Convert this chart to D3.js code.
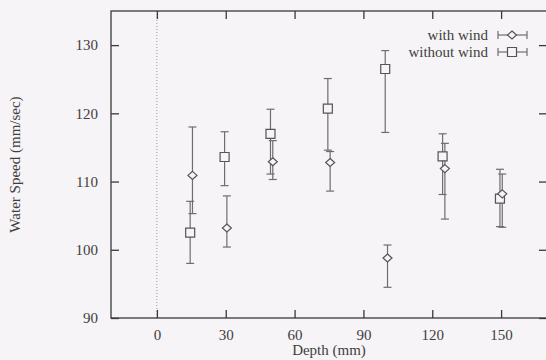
<!DOCTYPE html>
<html>
<head>
<meta charset="utf-8">
<script src="https://cdn.jsdelivr.net/npm/d3@7"></script>
<style>
  html, body { margin: 0; padding: 0; background: #f6f4f6; }
  svg { display: block; }
  text { font-family: "Liberation Serif", "Times New Roman", serif; fill: #3e3e3e; }
</style>
</head>
<body>
<svg id="chart" width="546" height="360"></svg>
<script>
// Measured water speed at each depth, mean with lower/upper error limits (mm/sec)
const withWindDepth    = [15.5, 30.5, 50.5, 75.5, 100.5, 125.5, 150.5];
const withWindSpeed    = [110.9, 103.2, 112.9, 112.8, 98.8, 111.9, 108.2];
const withWindLow      = [105.3, 100.4, 110.3, 108.6, 94.5, 104.5, 103.3];
const withWindHigh     = [118.0, 107.9, 116.0, 114.4, 100.7, 115.6, 111.1];

const withoutWindDepth = [14.5, 29.5, 49.5, 74.5, 99.5, 124.5, 149.5];
const withoutWindSpeed = [102.5, 113.6, 117.0, 120.7, 126.5, 113.7, 107.5];
const withoutWindLow   = [98.0, 109.4, 111.1, 114.6, 117.2, 108.1, 103.4];
const withoutWindHigh  = [107.1, 117.3, 120.6, 125.1, 129.2, 117.0, 111.8];

const xTicks = [0, 30, 60, 90, 120, 150];
const yTicks = [90, 100, 110, 120, 130];
const seriesNames = ["with wind", "without wind"];

const svg = d3.select("#chart");
const bg = "#f6f4f6";
const lineColor = "#6e6e6e";
const frameColor = "#3a3a3a";

const x = d3.scaleLinear().domain([-20, 170]).range([111, 547]);
const y = d3.scaleLinear().domain([90, 135]).range([318, 11]);

// zero line
svg.append("line")
  .attr("x1", x(0)).attr("x2", x(0))
  .attr("y1", y(135)).attr("y2", y(90))
  .attr("stroke", "#9a9a9a").attr("stroke-width", 1)
  .attr("stroke-dasharray", "1,2");

// frame
svg.append("rect")
  .attr("x", x(-20)).attr("y", y(135))
  .attr("width", x(170) - x(-20)).attr("height", y(90) - y(135))
  .attr("fill", "none").attr("stroke", frameColor).attr("stroke-width", 1.3);

function styleAxis(g) {
  g.select(".domain").remove();
  g.selectAll(".tick line").attr("stroke", frameColor).attr("stroke-width", 1.3);
  g.selectAll(".tick text").attr("font-size", 15).attr("fill", "#3e3e3e")
    .attr("font-family", "Liberation Serif, Times New Roman, serif");
}

// bottom axis with inward ticks
svg.append("g").attr("transform", `translate(0,${y(90)})`)
  .call(d3.axisBottom(x).tickValues(xTicks).tickSize(-8).tickPadding(11).tickFormat(d3.format("d")))
  .call(styleAxis);
// mirrored top ticks
svg.append("g").attr("transform", `translate(0,${y(135)})`)
  .call(d3.axisTop(x).tickValues(xTicks).tickSize(-8).tickFormat(""))
  .call(styleAxis);
// left axis
svg.append("g").attr("transform", `translate(${x(-20)},0)`)
  .call(d3.axisLeft(y).tickValues(yTicks).tickSize(-8).tickPadding(13).tickFormat(d3.format("d")))
  .call(styleAxis);
// mirrored right ticks
svg.append("g").attr("transform", `translate(${x(170)},0)`)
  .call(d3.axisRight(y).tickValues(yTicks).tickSize(-8).tickFormat(""))
  .call(styleAxis);

// axis titles
svg.append("text")
  .attr("x", (x(-20) + x(170)) / 2).attr("y", 355)
  .attr("text-anchor", "middle").attr("font-size", 15)
  .text("Depth (mm)");
svg.append("text")
  .attr("transform", `translate(20,${(y(135) + y(90)) / 2}) rotate(-90)`)
  .attr("text-anchor", "middle").attr("font-size", 15)
  .text("Water Speed (mm/sec)");

const capHalf = 4;

function errorBars(depth, speed, low, high, marker) {
  const g = svg.append("g");
  const data = depth.map((d, i) => ({ d, v: speed[i], lo: low[i], hi: high[i] }));
  const bars = g.selectAll("g.bar").data(data).join("g").attr("class", "bar");
  bars.append("line")
    .attr("x1", p => x(p.d)).attr("x2", p => x(p.d))
    .attr("y1", p => y(p.lo)).attr("y2", p => y(p.hi))
    .attr("stroke", lineColor).attr("stroke-width", 1.2);
  bars.append("line")
    .attr("x1", p => x(p.d) - capHalf).attr("x2", p => x(p.d) + capHalf)
    .attr("y1", p => y(p.lo)).attr("y2", p => y(p.lo))
    .attr("stroke", lineColor).attr("stroke-width", 1.2);
  bars.append("line")
    .attr("x1", p => x(p.d) - capHalf).attr("x2", p => x(p.d) + capHalf)
    .attr("y1", p => y(p.hi)).attr("y2", p => y(p.hi))
    .attr("stroke", lineColor).attr("stroke-width", 1.2);
  return g;
}

function markers(g, depth, speed, marker) {
  g.selectAll("path.pt").data(depth.map((d, i) => ({ d, v: speed[i] })))
    .join("path").attr("class", "pt")
    .attr("transform", p => `translate(${x(p.d)},${y(p.v)})`)
    .attr("d", marker)
    .attr("fill", bg).attr("stroke", "#555").attr("stroke-width", 1.2);
}

const diamondPath = "M0,-4L4.5,0L0,4L-4.5,0Z";
const squarePath = "M-4.5,-4.5H4.5V4.5H-4.5Z";

const gWith = errorBars(withWindDepth, withWindSpeed, withWindLow, withWindHigh);
const gWithout = errorBars(withoutWindDepth, withoutWindSpeed, withoutWindLow, withoutWindHigh);
markers(gWithout, withoutWindDepth, withoutWindSpeed, squarePath);
markers(svg.append("g"), withWindDepth, withWindSpeed, diamondPath);

// legend
const legend = svg.append("g");
const legendMarkers = [diamondPath, squarePath];
seriesNames.forEach((name, i) => {
  const cy = 35 + i * 17;
  legend.append("text")
    .attr("x", 488).attr("y", cy + 5)
    .attr("text-anchor", "end").attr("font-size", 15)
    .text(name);
  legend.append("line").attr("x1", 498).attr("x2", 527).attr("y1", cy).attr("y2", cy)
    .attr("stroke", lineColor).attr("stroke-width", 1.2);
  [498, 527].forEach(cx => legend.append("line")
    .attr("x1", cx).attr("x2", cx).attr("y1", cy - 4).attr("y2", cy + 4)
    .attr("stroke", lineColor).attr("stroke-width", 1.2));
  legend.append("path")
    .attr("transform", `translate(512,${cy})`)
    .attr("d", legendMarkers[i])
    .attr("fill", bg).attr("stroke", "#555").attr("stroke-width", 1.2);
});
</script>
</body>
</html>
